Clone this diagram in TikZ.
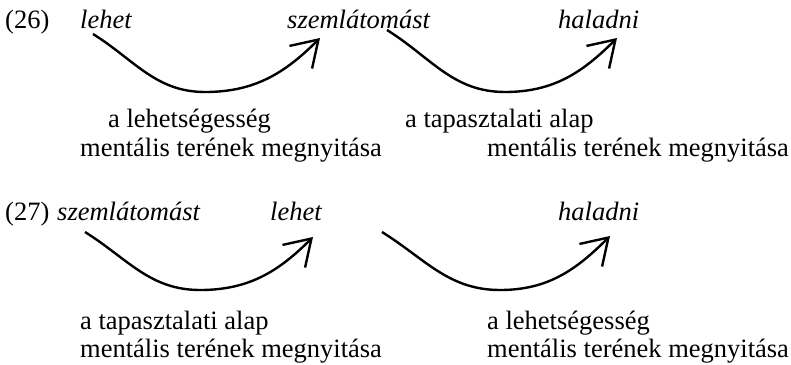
\documentclass[tikz,border=0pt]{standalone}
\usepackage{fontspec}
\setmainfont{Liberation Serif}
\usetikzlibrary{arrows.meta}
\begin{document}
\begin{tikzpicture}[x=1pt,y=1pt,
  txt/.style={anchor=base west,inner sep=0pt,font=\fontsize{26.5}{28}\selectfont},
  word/.style={txt,font=\fontsize{26.5}{28}\selectfont\itshape},
  curvearrow/.style={line width=2.4pt,-{Straight Barb[length=25pt,width=32pt,line width=2.4pt]}}]
\useasboundingbox (0,0) rectangle (791,-364);

% example (26)
\node[txt]  (n26)  at (5,-28)   {(26)};
\node[word] (w1a)  at (80,-28)  {lehet};
\node[word] (w1b)  at (287,-28) {szemlátomást};
\node[word] (w1c)  at (558,-28) {haladni};
\node[txt]  (l1a)  at (108,-127) {a lehetségesség};
\node[txt]  (l1b)  at (80,-156)  {mentális terének megnyitása};
\node[txt]  (l1c)  at (405,-127) {a tapasztalati alap};
\node[txt]  (l1d)  at (487,-156) {mentális terének megnyitása};

\coordinate (s1) at (93,-34);   \coordinate (b1) at (205,-92);  \coordinate (t1) at (320,-38);
\coordinate (s2) at (387,-30);  \coordinate (b2) at (505,-92);  \coordinate (t2) at (617,-38);
\draw[curvearrow] (s1) to[out=-32,in=180] (b1) to[out=0,in=-135] (t1);
\draw[curvearrow] (s2) to[out=-32,in=180] (b2) to[out=0,in=-135] (t2);

% example (27)
\node[txt]  (n27)  at (5,-220)   {(27)};
\node[word] (w2a)  at (57,-220)  {szemlátomást};
\node[word] (w2b)  at (270,-220) {lehet};
\node[word] (w2c)  at (558,-220) {haladni};
\node[txt]  (l2a)  at (80,-329)  {a tapasztalati alap};
\node[txt]  (l2b)  at (80,-357)  {mentális terének megnyitása};
\node[txt]  (l2c)  at (487,-329) {a lehetségesség};
\node[txt]  (l2d)  at (487,-357) {mentális terének megnyitása};

\coordinate (s3) at (85,-232);  \coordinate (b3) at (200,-290); \coordinate (t3) at (313,-237);
\coordinate (s4) at (382,-232); \coordinate (b4) at (500,-290); \coordinate (t4) at (610,-236);
\draw[curvearrow] (s3) to[out=-32,in=180] (b3) to[out=0,in=-135] (t3);
\draw[curvearrow] (s4) to[out=-32,in=180] (b4) to[out=0,in=-135] (t4);
\end{tikzpicture}
\end{document}
